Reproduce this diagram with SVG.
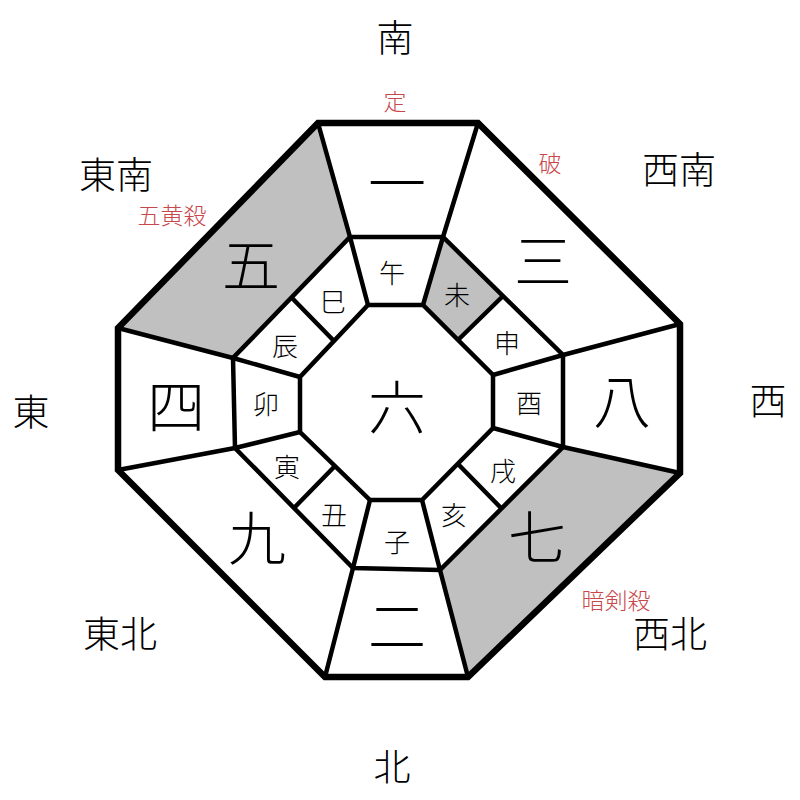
<svg xmlns="http://www.w3.org/2000/svg" width="800" height="800" viewBox="0 0 800 800">
<style>
text{font-family:"Noto Sans CJK JP","Noto Sans CJK SC",sans-serif;text-anchor:middle;dominant-baseline:central;fill:#000;font-weight:300}
.dir{font-size:37px}
.red{font-size:23px;fill:#c8474b}
.num{font-size:58px}
.br{font-size:26px}
.ln{stroke:#000;stroke-width:4.5;fill:none;stroke-linejoin:miter}
.gray{fill:#c0c0c0;stroke:none}
</style>
<rect width="800" height="800" fill="#fff"/>
<g id="fills">
<polygon class="gray" points="318,123 350,237 233,358 118,328"/>
<polygon class="gray" points="563,447 680,473 468,677 440,570"/>
<polygon class="gray" points="443,237 503,296 458,340 423,305"/>
</g>
<g id="connectors">
<polygon class="ln" points="350,237 443,237 563,355 563,447 440,570 353,568 235,448 233,358"/>
<polygon class="ln" points="368,305 423,305 493,375 493,428 422,500 370,500 300,432 300,377"/>
<path class="ln" d="M318,123L350,237M478,123L443,237M680,324L563,355M680,473L563,447M468,677L440,570M325,677L353,568M118,470L235,448M118,328L233,358"/>
<path class="ln" d="M350,237L368,305M443,237L423,305M563,355L493,375M563,447L493,428M440,570L422,500M353,568L370,500M235,448L300,432M233,358L300,377"/>
<path class="ln" d="M503,296L458,340M292,298L334,341M294,508L335,466M501,508L458,464"/>
<polygon points="318,123 478,123 680,324 680,473 468,677 325,677 118,470 118,328" fill="none" stroke="#000" stroke-width="6.5" stroke-linejoin="miter"/>
</g>
<g id="directions">
<text class="dir" x="395" y="36">南</text>
<text class="dir" x="116" y="173">東南</text>
<text class="dir" x="679" y="168">西南</text>
<text class="dir" x="31" y="410">東</text>
<text class="dir" x="768" y="399">西</text>
<text class="dir" x="120" y="632">東北</text>
<text class="dir" x="670" y="632">西北</text>
<text class="dir" x="392" y="765">北</text>
</g>
<g id="labels">
<text class="red" x="395" y="100">定</text>
<text class="red" x="550" y="162">破</text>
<text class="red" x="172" y="214">五黄殺</text>
<text class="red" x="616" y="599">暗剣殺</text>
</g>
<g id="stars">
<text class="num" x="397" y="180">一</text>
<text class="num" x="543" y="258">三</text>
<text class="num" x="251" y="262">五</text>
<text class="num" x="176" y="403">四</text>
<text class="num" x="397" y="404">六</text>
<text class="num" x="622" y="398">八</text>
<text class="num" x="257" y="535">九</text>
<text class="num" x="537" y="534">七</text>
<text class="num" x="397" y="623">二</text>
</g>
<g id="branches">
<text class="br" x="392" y="271">午</text>
<text class="br" x="457" y="293">未</text>
<text class="br" x="507" y="341">申</text>
<text class="br" x="529" y="401">酉</text>
<text class="br" x="503" y="469">戌</text>
<text class="br" x="454" y="513">亥</text>
<text class="br" x="397" y="540">子</text>
<text class="br" x="334" y="513">丑</text>
<text class="br" x="287" y="465">寅</text>
<text class="br" x="266" y="402">卯</text>
<text class="br" x="285" y="344">辰</text>
<text class="br" x="333" y="300">巳</text>
</g>
</svg>
